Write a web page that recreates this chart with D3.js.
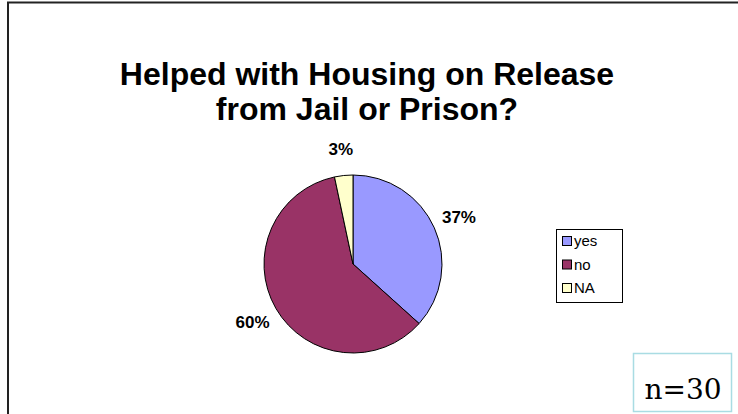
<!DOCTYPE html>
<html>
<head>
<meta charset="utf-8">
<script src="https://cdn.jsdelivr.net/npm/d3@7"></script>
<style>
  body { margin: 0; background: #fff; }
  svg { display: block; }
</style>
</head>
<body>
<svg id="chart" width="738" height="414"></svg>
<script>
// chart data
var categories = ["yes", "no", "NA"];
var counts = [11, 18, 1];
var pctLabels = ["37%", "60%", "3%"];
var sliceColours = ["#9999FF", "#993366", "#FFFFCC"];
var titleLines = ["Helped with Housing on Release", "from Jail or Prison?"];
var sampleNote = "n=30";

var width = 738, height = 414;
var cx = 353, cy = 264, radius = 89;

var svg = d3.select("#chart");
svg.append("rect").attr("width", width).attr("height", height).attr("fill", "#fff");

// frame (left + top edges only)
svg.append("path")
  .attr("d", "M8," + height + "V2.5H" + width)
  .attr("fill", "none")
  .attr("stroke", "#222")
  .attr("stroke-width", 2);

// title
svg.append("g").selectAll("text")
  .data(titleLines)
  .enter().append("text")
  .attr("x", 367)
  .attr("y", function (d, i) { return 85 + i * 35; })
  .attr("text-anchor", "middle")
  .attr("font-family", "Liberation Sans, Arial, sans-serif")
  .attr("font-weight", "bold")
  .attr("font-size", 32)
  .attr("fill", "#000")
  .text(function (d) { return d; });

// pie
var pie = d3.pie().sort(null).value(function (d) { return d; });
var arcs = pie(counts);
var arc = d3.arc().innerRadius(0).outerRadius(radius);
var labelArc = d3.arc().innerRadius(radius + 27).outerRadius(radius + 27);

var pieG = svg.append("g").attr("transform", "translate(" + cx + "," + cy + ")");
pieG.selectAll("path")
  .data(arcs)
  .enter().append("path")
  .attr("d", arc)
  .attr("fill", function (d, i) { return sliceColours[i]; })
  .attr("stroke", "#000")
  .attr("stroke-width", 1);

pieG.selectAll("text")
  .data(arcs)
  .enter().append("text")
  .attr("transform", function (d) { return "translate(" + labelArc.centroid(d) + ")"; })
  .attr("dy", "0.35em")
  .attr("text-anchor", "middle")
  .attr("font-family", "Liberation Sans, Arial, sans-serif")
  .attr("font-weight", "bold")
  .attr("font-size", 17)
  .text(function (d, i) { return pctLabels[i]; });

// legend
var legX = 556, legY = 229, legW = 66, legH = 73, rowH = 23.5;
var legend = svg.append("g").attr("transform", "translate(" + legX + "," + legY + ")");
legend.append("rect")
  .attr("x", 0.5).attr("y", 0.5)
  .attr("width", legW).attr("height", legH)
  .attr("fill", "#fff").attr("stroke", "#000").attr("stroke-width", 1);
var rows = legend.selectAll("g.row")
  .data(categories)
  .enter().append("g")
  .attr("class", "row")
  .attr("transform", function (d, i) { return "translate(6," + (12 + i * rowH) + ")"; });
rows.append("rect")
  .attr("x", 0.5).attr("y", -4.5)
  .attr("width", 9).attr("height", 9)
  .attr("fill", function (d, i) { return sliceColours[i]; })
  .attr("stroke", "#000").attr("stroke-width", 1);
rows.append("text")
  .attr("x", 12).attr("y", 0)
  .attr("dy", "0.36em")
  .attr("font-family", "Liberation Sans, Arial, sans-serif")
  .attr("font-size", 15)
  .text(function (d) { return d; });

// n= box
svg.append("rect")
  .attr("x", 633.5).attr("y", 353.5)
  .attr("width", 98).attr("height", 58)
  .attr("fill", "#fff")
  .attr("stroke", "#A9DCE3").attr("stroke-width", 1.5);
svg.append("text")
  .attr("x", 683).attr("y", 399)
  .attr("text-anchor", "middle")
  .attr("font-family", "DejaVu Serif, serif")
  .attr("font-size", 28)
  .text(sampleNote);
</script>
</body>
</html>
